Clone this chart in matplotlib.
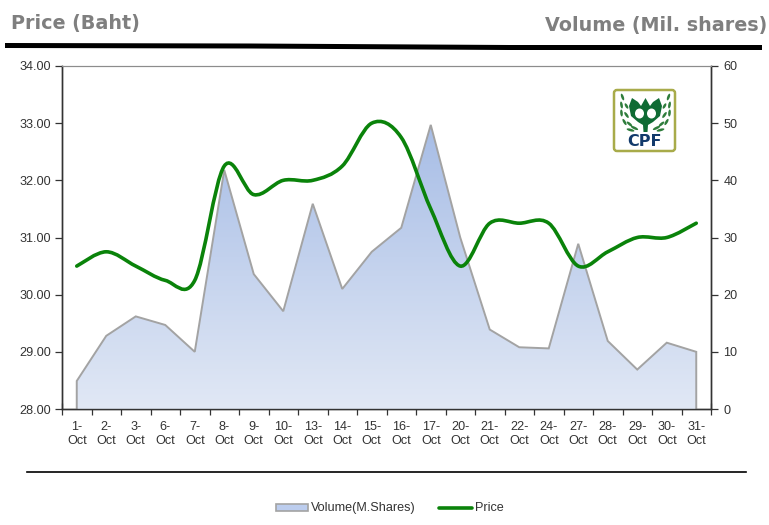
import numpy as np
import matplotlib
matplotlib.use("Agg")
import matplotlib.pyplot as plt
from matplotlib.path import Path
from matplotlib.patches import PathPatch, FancyBboxPatch, Polygon, Ellipse
from matplotlib.colors import LinearSegmentedColormap

days = [1, 2, 3, 6, 7, 8, 9, 10, 13, 14, 15, 16, 17, 20, 21, 22, 24, 27, 28, 29, 30, 31]
month = "Oct"
price = [30.5, 30.75, 30.5, 30.25, 30.25, 32.25, 31.75, 32.0, 32.0, 32.25, 33.0, 32.75,
         31.5, 30.5, 31.25, 31.25, 31.25, 30.5, 30.75, 31.0, 31.0, 31.25]
volume = [4.9, 12.8, 16.2, 14.7, 10.0, 41.8, 23.6, 17.1, 35.9, 21.0, 27.5, 31.7,
          49.7, 30.0, 13.9, 10.8, 10.6, 28.9, 11.9, 6.9, 11.6, 10.0]
price_ticks = [28, 29, 30, 31, 32, 33, 34]
volume_ticks = [0, 10, 20, 30, 40, 50, 60]

W, H = 769, 525
plt.rcParams["font.family"] = ["Liberation Sans", "DejaVu Sans"]
fig = plt.figure(figsize=(W / 100, H / 100), dpi=100, facecolor="white")
L, R, T, B = 62, 711, 66, 409
ax = fig.add_axes([L / W, 1 - B / H, (R - L) / W, (B - T) / H])
ax.set_xlim(-0.5, len(days) - 0.5)
ax.set_ylim(price_ticks[0], price_ticks[-1])
ax2 = ax.twinx()
ax2.set_ylim(volume_ticks[0], volume_ticks[-1])
x = np.arange(len(days))

# Area on the secondary axis, gradient filled
cmap = LinearSegmentedColormap.from_list("vol", ["#a7bde6", "#e1e8f5"])
grad = np.linspace(0, 1, 256).reshape(-1, 1)
im = ax2.imshow(grad, aspect="auto", cmap=cmap, zorder=1,
                extent=(x[0], x[-1], 0, max(volume)), origin="upper")
verts = np.column_stack([np.r_[x[0], x, x[-1]], np.r_[0, volume, 0]])
clip = Polygon(verts, closed=True, transform=ax2.transData, fc="none", ec="none")
ax2.add_patch(clip)
im.set_clip_path(clip)
ax2.plot(np.r_[x[0], x, x[-1]], np.r_[0, volume, 0], color="#a3a3a3", lw=1.4, zorder=2,
         solid_joinstyle="miter")
ax2.set_xlim(-0.5, len(days) - 0.5)
ax2.set_ylim(volume_ticks[0], volume_ticks[-1])

# Smoothed price line (Catmull-Rom through the data values), on top of the area
p = np.column_stack([x, price])
codes, pts = [Path.MOVETO], [p[0]]
for i in range(len(p) - 1):
    p0 = p[max(i - 1, 0)]
    p3 = p[min(i + 2, len(p) - 1)]
    pts += [p[i] + (p[i + 1] - p0) / 6, p[i + 1] - (p3 - p[i]) / 6, p[i + 1]]
    codes += [Path.CURVE4] * 3
ax3 = fig.add_axes(ax.get_position(), frameon=False, xticks=[], yticks=[])
ax3.set_xlim(ax.get_xlim())
ax3.set_ylim(ax.get_ylim())
ax3.patch.set_alpha(0)
ax3.add_patch(PathPatch(Path(pts, codes), fc="none", ec="#0a830a", lw=2.6, capstyle="round"))

# Axes styling
TXT = "#333333"
edges = np.arange(-0.5, len(days), 1)
ax.set_xticks(edges)
ax.set_xticklabels([])
ax.set_xticks(x, [f"{d}-\n{month}" for d in days], minor=True)
ax.tick_params(axis="x", which="major", direction="inout", length=9, width=0.9, color="#333333")
ax.tick_params(axis="x", which="minor", length=0, pad=8.5, labelsize=9.1, labelcolor=TXT)
for lab in ax.get_xticklabels(minor=True):
    lab.set_linespacing(1.22)
ax.set_yticks(price_ticks, [f"{v:.2f}" for v in price_ticks])
ax.tick_params(axis="y", direction="out", length=5, width=0.9, color="#333333", pad=3,
               labelsize=9.1, labelcolor=TXT)
ax2.set_yticks(volume_ticks, [str(v) for v in volume_ticks])
ax2.tick_params(axis="y", direction="out", length=5, width=0.9, color="#333333", pad=4,
                labelsize=9.1, labelcolor=TXT)
for a in (ax, ax2):
    a.spines["top"].set_color("#8c8c8c")
    for s in ("left", "right", "bottom"):
        a.spines[s].set_color("#333333")
        a.spines[s].set_linewidth(1.0)

# Overlay in pixel coordinates for titles, rules, logo and legend
ov = fig.add_axes([0, 0, 1, 1], frameon=False, xticks=[], yticks=[], zorder=5)
ov.set_xlim(0, W)
ov.set_ylim(H, 0)
ov.patch.set_alpha(0)
tkw = dict(family="DejaVu Sans", fontweight="bold", color="#7f7f7f", fontsize=13.8, va="center")
ov.text(11, 23.5, "Price (Baht)", ha="left", **tkw)
ov.text(767, 25, "Volume (Mil. shares)", ha="right", **tkw)
ov.add_patch(Polygon([[5, 43], [250, 43.5], [509, 45], [762, 45], [762, 50], [509, 50], [250, 48.5], [5, 48]],
                     closed=True, fc="black", ec="none"))
ov.plot([27, 746], [472, 472], color="black", lw=1.2)

# Logo
ov.add_patch(FancyBboxPatch((614, 90), 61, 61, boxstyle="round,pad=0,rounding_size=3",
                            fc="white", ec="#a8ab4a", lw=1.8))
g = "#0f6b34"
leaf = "#2f7d3c"
for side in (-1, 1):
    for dx, cy, ang, ln in [(23, 97, 70, 7), (24, 105, 80, 7), (19, 106, 60, 6),
                            (24, 113, 85, 7), (19, 115, 55, 7), (21, 122, 60, 7),
                            (16, 124, 40, 7), (11, 128, 25, 8), (15, 130, 15, 8)]:
        a = ang if side < 0 else 180 - ang
        ov.add_patch(Ellipse((645.5 + side * dx, cy), ln, 2.6, angle=a, fc=leaf, ec="none"))
ov.add_patch(Polygon([[629, 106], [632, 98], [638, 102], [641, 106], [645.5, 98], [650, 106], [653, 102],
                      [659, 98], [662, 106], [660, 116], [653, 122], [648, 125], [647.5, 132], [643.5, 132],
                      [643, 125], [638, 122], [631, 116]],
                     closed=True, fc=g, ec="none"))
ov.add_patch(Ellipse((639.5, 113.5), 9, 10, fc="white", ec="none"))
ov.add_patch(Ellipse((651.5, 113.5), 9, 10, fc="white", ec="none"))
ov.text(645, 141, "CPF", family="DejaVu Sans", fontweight="bold", fontsize=11.5, color="#123a6b",
        ha="center", va="center")

# Legend
ov.add_patch(plt.Rectangle((276, 504), 32, 7, fc="#bccdee", ec="#a3a3a3", lw=1.2))
ov.text(311, 508, "Volume(M.Shares)", fontsize=9.1, color=TXT, va="center", ha="left")
ov.plot([439, 472], [508, 508], color="#0a830a", lw=2.6, solid_capstyle="round")
ov.text(475, 508, "Price", fontsize=9.1, color=TXT, va="center", ha="left")

fig.savefig("out.png", dpi=100)
